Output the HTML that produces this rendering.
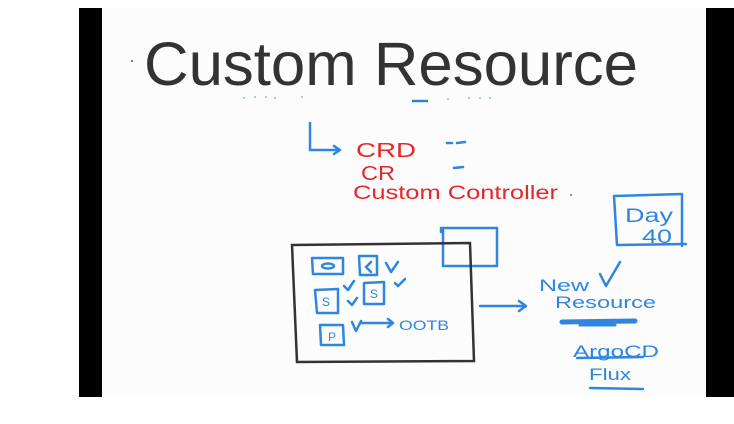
<!DOCTYPE html>
<html><head><meta charset="utf-8"><style>
html,body{margin:0;padding:0;background:#fff;width:734px;height:424px;overflow:hidden}
</style></head><body>
<svg width="734" height="424" xmlns="http://www.w3.org/2000/svg" font-family="Liberation Sans, sans-serif">
<rect x="0" y="0" width="734" height="424" fill="#fff"/>
<rect x="101" y="8" width="605" height="389" fill="#fcfcfc"/>
<rect x="79" y="8" width="23" height="389" fill="#000"/>
<rect x="706" y="8" width="28" height="389" fill="#000"/>
<text x="144" y="85" font-size="61" fill="#333" textLength="494" lengthAdjust="spacingAndGlyphs">Custom Resource</text>
<circle cx="132" cy="61" r="1" fill="#555"/>
<g fill="#4a8fd8"><circle cx="244" cy="98" r="0.8"/><circle cx="255" cy="97" r="0.8"/><circle cx="266" cy="97" r="0.8"/><circle cx="275" cy="98" r="0.8"/><circle cx="302" cy="97" r="0.8"/><circle cx="448" cy="99" r="0.8"/><circle cx="469" cy="98" r="0.8"/><circle cx="480" cy="98" r="0.8"/><circle cx="490" cy="98" r="0.8"/></g>
<line x1="412" y1="101" x2="428" y2="101" stroke="#3a7fd0" stroke-width="2.5"/>
<g stroke="#2f86e0" stroke-width="2.5" fill="none" stroke-linecap="round" stroke-linejoin="round">
<path d="M310 123 L310 150 L340 150 M334 146 L340 150 L334 154"/>
<path d="M447 143 L452 143 M457 143 L465 142"/>
<path d="M454 168 L463 167"/>
<path d="M614 196 L682 194 L682 246 M614 196 L617 245 L686 244"/>
<path d="M441 232 L441 228 L497 228 L497 266 L443 266 L443 230"/>
<path d="M312 258 L343 258 L343 274 L313 274 Z"/>
<ellipse cx="328" cy="266" rx="6" ry="2.5"/>
<path d="M359 256 L377 256 L377 275 L360 275 Z"/>
<path d="M371 262 L366 267 L371 272"/>
<path d="M386 263 L391 272 L398 262"/>
<path d="M315 290 L338 289 L338 313 L317 313 Z"/>
<path d="M344 286 L348 290 L354 281"/>
<path d="M348 301 L352 305 L357 298"/>
<path d="M364 283 L384 282 L384 304 L364 304 Z"/>
<path d="M395 283 L398 286 L405 279"/>
<path d="M320 325 L343 325 L344 345 L321 345 Z"/>
<path d="M352 322 L356 331 L361 321 M361 323 L393 323 M388 319 L393 323 L388 327"/>
<path d="M480 306 L526 306 M519 301 L526 306 L519 311"/>
<path d="M600 274 L606 286 L620 262"/>
<path d="M562 322 L635 321" stroke-width="5"/>
<path d="M580 325 L615 325" stroke-width="3"/>
<path d="M577 358 L643 357"/>
<path d="M590 388 L643 389"/>
</g>
<g stroke="#333" stroke-width="2.5" fill="none"><path d="M292 245 L470 243 L474 361 L297 362 Z"/></g>
<g fill="#e8262a" font-size="20">
<text x="356" y="157" textLength="60" lengthAdjust="spacingAndGlyphs">CRD</text>
<text x="361" y="180" textLength="34" lengthAdjust="spacingAndGlyphs">CR</text>
<text x="353" y="199" textLength="205" lengthAdjust="spacingAndGlyphs" font-size="19">Custom Controller</text>
</g>
<circle cx="571" cy="195" r="1" fill="#777"/>
<g fill="#2f86e0">
<text x="625" y="222" font-size="19" textLength="48" lengthAdjust="spacingAndGlyphs">Day</text>
<text x="642" y="243" font-size="19" textLength="30" lengthAdjust="spacingAndGlyphs">40</text>
<text x="332" y="341" font-size="12" text-anchor="middle">P</text>
<text x="326" y="306" font-size="12" text-anchor="middle">S</text>
<text x="374" y="298" font-size="12" text-anchor="middle">S</text>
<text x="399" y="330" font-size="14" textLength="50" lengthAdjust="spacingAndGlyphs">OOTB</text>
<text x="539" y="291" font-size="17" textLength="50" lengthAdjust="spacingAndGlyphs">New</text>
<text x="555" y="308" font-size="17" textLength="101" lengthAdjust="spacingAndGlyphs">Resource</text>
<text x="573" y="357" font-size="17" textLength="86" lengthAdjust="spacingAndGlyphs">ArgoCD</text>
<text x="589" y="380" font-size="17" textLength="42" lengthAdjust="spacingAndGlyphs">Flux</text>
</g>
</svg>
</body></html>
